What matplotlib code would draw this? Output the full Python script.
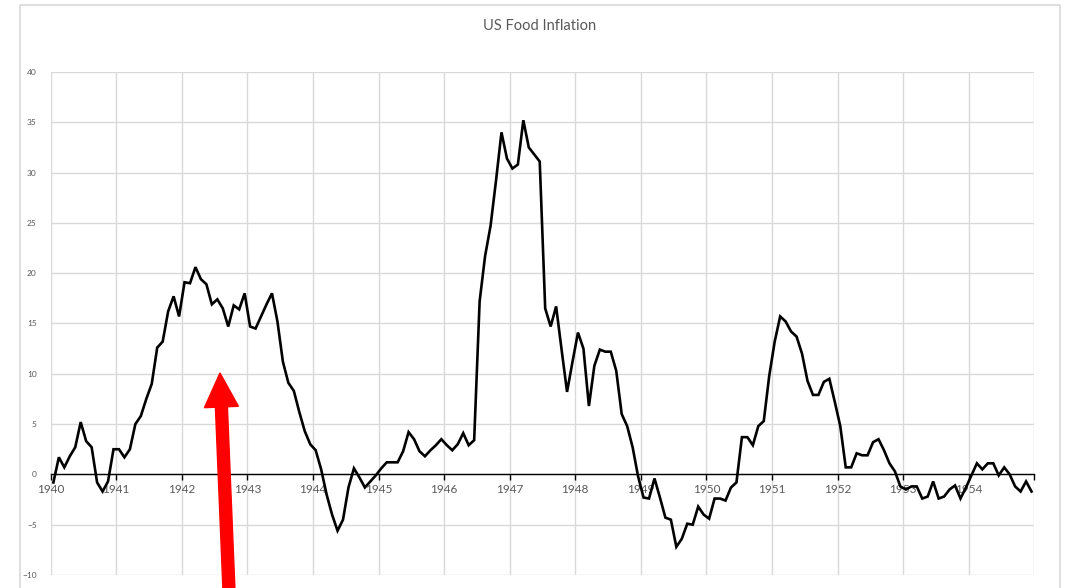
import numpy as np
import matplotlib
matplotlib.use("Agg")
import matplotlib.pyplot as plt
from matplotlib.patches import FancyArrow, Rectangle
from matplotlib.transforms import IdentityTransform

plt.rcParams['font.family'] = ['Lato', 'DejaVu Sans']

# anos del eje (una marca por ano, 12 meses cada una)
anos = list(range(1940, 1955))

# inflacion de alimentos en EE.UU., variacion anual (%), mensual 1940-1954
inflacion_1940 = [-0.8, 1.7, 0.7, 1.8, 2.7, 5.2, 3.3, 2.7, -0.8, -1.7, -0.7, 2.5]
inflacion_1941 = [2.5, 1.7, 2.5, 5.0, 5.8, 7.5, 9.0, 12.6, 13.2, 16.2, 17.7, 15.7]
inflacion_1942 = [19.1, 19.0, 20.6, 19.4, 18.9, 16.9, 17.4, 16.5, 14.7, 16.8, 16.4, 18.0]
inflacion_1943 = [14.7, 14.5, 15.7, 16.9, 18.0, 15.2, 11.2, 9.1, 8.3, 6.2, 4.3, 3.0]
inflacion_1944 = [2.4, 0.5, -2.0, -4.0, -5.6, -4.5, -1.3, 0.6, -0.3, -1.3, -0.7, -0.1]
inflacion_1945 = [0.6, 1.2, 1.2, 1.2, 2.3, 4.2, 3.5, 2.3, 1.8, 2.4, 2.9, 3.5]
inflacion_1946 = [2.9, 2.4, 3.0, 4.1, 2.9, 3.4, 17.2, 21.7, 24.7, 29.2, 34.0, 31.4]
inflacion_1947 = [30.4, 30.8, 35.2, 32.5, 31.8, 31.1, 16.5, 14.7, 16.7, 12.4, 8.2, 11.2]
inflacion_1948 = [14.1, 12.5, 6.8, 10.8, 12.4, 12.2, 12.2, 10.3, 6.0, 4.8, 2.7, -0.2]
inflacion_1949 = [-2.3, -2.4, -0.4, -2.3, -4.3, -4.5, -7.2, -6.4, -4.9, -5.0, -3.2, -4.0]
inflacion_1950 = [-4.4, -2.4, -2.4, -2.6, -1.3, -0.8, 3.7, 3.7, 2.9, 4.8, 5.3, 9.8]
inflacion_1951 = [13.2, 15.7, 15.2, 14.2, 13.7, 12.0, 9.3, 7.9, 7.9, 9.2, 9.5, 7.2]
inflacion_1952 = [4.8, 0.7, 0.7, 2.1, 1.9, 1.9, 3.2, 3.5, 2.4, 1.1, 0.3, -1.2]
inflacion_1953 = [-1.5, -1.2, -1.2, -2.4, -2.2, -0.7, -2.4, -2.2, -1.5, -1.1, -2.4, -1.3]
inflacion_1954 = [-0.1, 1.1, 0.5, 1.1, 1.1, -0.1, 0.7, 0.0, -1.2, -1.7, -0.7, -1.7]

serie = (inflacion_1940 + inflacion_1941 + inflacion_1942 + inflacion_1943 +
         inflacion_1944 + inflacion_1945 + inflacion_1946 + inflacion_1947 +
         inflacion_1948 + inflacion_1949 + inflacion_1950 + inflacion_1951 +
         inflacion_1952 + inflacion_1953 + inflacion_1954)

gris = '#595959'
rejilla = '#d9d9d9'

fig = plt.figure(figsize=(10.71, 5.88), dpi=100)
ax = fig.add_axes([0.0473, 0.0221, 0.9184, 0.8555])

# cada mes se dibuja en el centro de su categoria
meses = np.arange(len(serie)) + 0.5
ax.plot(meses, serie, color='black', linewidth=1.9, solid_joinstyle='miter', zorder=3)

ax.set_xlim(0, len(serie))
ax.set_ylim(-10, 40)

marcas = list(range(0, len(serie) + 1, 12))
ax.set_xticks(marcas)
ax.set_xticklabels([str(a) for a in anos] + [''])
ax.set_yticks(range(-10, 45, 5))

ax.grid(True, color=rejilla, linewidth=1.0, zorder=0)
ax.set_axisbelow(True)

for lado in ['top', 'left', 'right']:
    ax.spines[lado].set_visible(False)
ax.spines['bottom'].set_position(('data', 0))
ax.spines['bottom'].set_color('black')
ax.spines['bottom'].set_linewidth(1.0)
ax.spines['bottom'].set_zorder(2)

ax.tick_params(axis='x', direction='out', length=4, width=1.0, color='black',
               labelsize=8.5, labelcolor=gris, pad=3)
ax.tick_params(axis='y', length=0, labelsize=6, labelcolor=gris, pad=10)

fig.text(0.504, 0.955, 'US Food Inflation', ha='center', va='center',
         fontsize=10.5, color=gris)

# marco del grafico
fig.add_artist(Rectangle((20, -5), 1040, 588, transform=IdentityTransform(),
                         fill=False, edgecolor=rejilla, linewidth=1.2))

# flecha roja
flecha = FancyArrow(229.5, -15, -9.5, 230, width=12, head_width=34, head_length=34,
                    length_includes_head=True, color='#ff0000',
                    transform=IdentityTransform(), zorder=10)
fig.add_artist(flecha)

fig.savefig('out.png', dpi=100)
